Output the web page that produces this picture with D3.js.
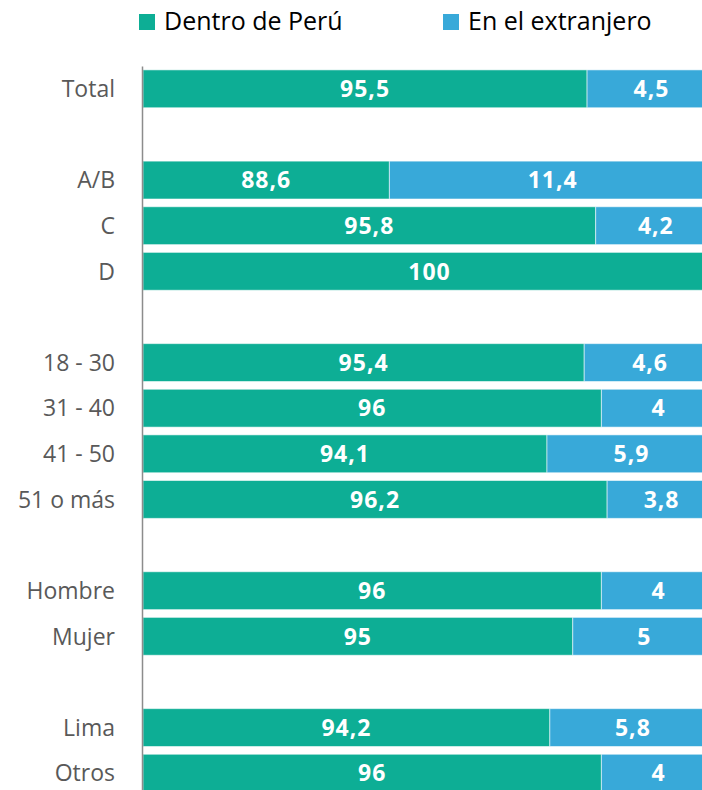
<!DOCTYPE html>
<html>
<head>
<meta charset="utf-8">
<script src="https://cdn.jsdelivr.net/npm/d3@7"></script>
<style>
  html, body { margin: 0; padding: 0; background: #fff; }
  svg { display: block; }
</style>
</head>
<body>
<div id="chart"></div>
<script>
// ---- data ----
const categories = ["Total", "", "A/B", "C", "D", "", "18 - 30", "31 - 40", "41 - 50", "51 o más", "", "Hombre", "Mujer", "", "Lima", "Otros"];
const dentro     = [95.5, null, 88.6, 95.8, 100, null, 95.4, 96, 94.1, 96.2, null, 96, 95, null, 94.2, 96];
const extranjero = [4.5, null, 11.4, 4.2, 0, null, 4.6, 4, 5.9, 3.8, null, 4, 5, null, 5.8, 4];
const seriesNames = ["Dentro de Perú", "En el extranjero"];
const xDomain = [80, 100];

// ---- layout ----
const W = 702, H = 790;
const colors = ["#0dae95", "#38a9d9"];
const svg = d3.select("#chart").append("svg").attr("width", W).attr("height", H);

const x = d3.scaleLinear().domain(xDomain).range([143, 716]);
const y = d3.scaleBand().domain(d3.range(categories.length)).range([66, 796]).paddingInner(0.17).paddingOuter(0.085);

const fmt = v => String(v).replace(".", ",");

// bars
const rows = categories.map((c, i) => ({ i, c, a: dentro[i], b: extranjero[i] })).filter(d => d.a !== null);

const g = svg.append("g");
rows.forEach(d => {
  const segs = [
    { x0: xDomain[0], x1: d.a, v: d.a, col: colors[0] },
    { x0: d.a, x1: d.a + d.b, v: d.b, col: colors[1] }
  ];
  segs.forEach(s => {
    if (s.v <= 0) return;
    g.append("rect")
      .attr("x", x(s.x0))
      .attr("y", y(d.i))
      .attr("width", x(s.x1) - x(s.x0))
      .attr("height", y.bandwidth())
      .attr("fill", s.col)
      .attr("stroke", "#ffffff")
      .attr("stroke-opacity", 0.55)
      .attr("stroke-width", 1);
    g.append("text")
      .attr("x", (x(s.x0) + x(s.x1)) / 2)
      .attr("y", y(d.i) + y.bandwidth() / 2)
      .attr("dy", "0.36em")
      .attr("text-anchor", "middle")
      .attr("fill", "#ffffff")
      .attr("font-family", "'Open Sans', sans-serif")
      .attr("font-weight", 700)
      .attr("font-size", 23)
      .attr("letter-spacing", 1)
      .text(fmt(s.v));
  });
});

// axis
const yAxis = d3.axisLeft(y).tickSize(0).tickPadding(27).tickFormat(i => categories[i]);
const ax = svg.append("g").attr("transform", "translate(142,0)").call(yAxis);
ax.select(".domain").attr("stroke", "#8c8c8c").attr("stroke-width", 1.5);
ax.selectAll("text")
  .attr("fill", "#595959")
  .attr("font-family", "'Open Sans', sans-serif")
  .attr("font-size", 23)
  .attr("dy", "0.36em");

// legend
const legendX = [139, 443];
seriesNames.forEach((n, k) => {
  svg.append("rect").attr("x", legendX[k]).attr("y", 14).attr("width", 16).attr("height", 16).attr("fill", colors[k]);
  svg.append("text")
    .attr("x", legendX[k] + 25)
    .attr("y", 30)
    .attr("fill", "#000")
    .attr("font-family", "'Open Sans', sans-serif")
    .attr("font-size", 25)
    .text(n);
});
</script>
</body>
</html>
